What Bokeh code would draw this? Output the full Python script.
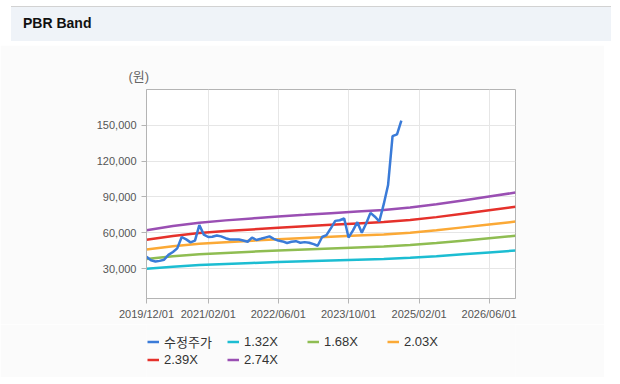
from datetime import datetime
from bokeh.plotting import figure
from bokeh.models import (Range1d, FixedTicker, DatetimeTickFormatter, NumeralTickFormatter,
                          Legend, LegendItem, Div)
from bokeh.layouts import column
from bokeh.embed import file_html
from bokeh.resources import INLINE

# ---------------- data ----------------
price_months = [
    "2019-12", "2020-01", "2020-02", "2020-03", "2020-04", "2020-05", "2020-06", "2020-07",
    "2020-08", "2020-09", "2020-10", "2020-11", "2020-12", "2021-01", "2021-02", "2021-03",
    "2021-04", "2021-05", "2021-06", "2021-07", "2021-08", "2021-09", "2021-10", "2021-11",
    "2021-12", "2022-01", "2022-02", "2022-03", "2022-04", "2022-05", "2022-06", "2022-07",
    "2022-08", "2022-09", "2022-10", "2022-11", "2022-12", "2023-01", "2023-02", "2023-03",
    "2023-04", "2023-05", "2023-06", "2023-07", "2023-08", "2023-09", "2023-10", "2023-11",
    "2023-12", "2024-01", "2024-02", "2024-03", "2024-04", "2024-05", "2024-06", "2024-07",
    "2024-08", "2024-09", "2024-10",
]
adj_price = [
    40000, 37000, 36000, 36500, 37500, 41500, 44000, 47000,
    56500, 54500, 52000, 53500, 66500, 58500, 56500, 56700,
    57800, 57000, 55500, 54400, 54400, 54400, 53500, 52500,
    56000, 54000, 55000, 56000, 57000, 55000, 53500, 52800,
    51500, 52500, 53000, 51700, 52200, 51700, 50500, 49200,
    56500, 58000, 64000, 70000, 70500, 72000, 56000, 62000,
    68900, 60000, 68000, 76700, 73500, 69500, 84000, 100000,
    141000, 142500, 154000,
]

bps_dates = ["2019-12", "2020-06", "2020-12", "2021-06", "2021-12", "2022-06", "2022-12",
             "2023-06", "2023-12", "2024-06", "2024-12", "2025-06", "2025-12", "2026-06", "2026-12"]
bps_values = [22700, 24000, 25000, 25700, 26300, 26900, 27400,
              27900, 28400, 28900, 29600, 30600, 31800, 33000, 34200]

band_multiples = [1.32, 1.68, 2.03, 2.39, 2.74]
band_labels = ["1.32X", "1.68X", "2.03X", "2.39X", "2.74X"]
band_colors = ["#1cbdd2", "#8fbd52", "#fba936", "#e5312b", "#9a4fb3"]
price_label = "수정주가"
price_color = "#3a7bd8"

x_tick_dates = ["2019-12-01", "2021-02-01", "2022-06-01", "2023-10-01", "2025-02-01", "2026-06-01"]
y_ticks = [30000, 60000, 90000, 120000, 150000]

# ---------------- helpers ----------------
def month_dt(s):
    y, m = s.split("-")[:2]
    return datetime(int(y), int(m), 1)

def ms(dt):
    return (dt - datetime(1970, 1, 1)).total_seconds() * 1000.0

price_x = [month_dt(s) for s in price_months]
bps_x = [month_dt(s) for s in bps_dates]

FONT = "Liberation Sans, Noto Sans CJK KR"
BG = "#fbfbfb"

p = figure(width=604, height=279, x_axis_type="datetime",
           x_range=Range1d(datetime(2019, 12, 1), datetime(2026, 12, 1)),
           y_range=Range1d(5000, 180000),
           output_backend="svg", toolbar_location=None,
           min_border_left=146, min_border_right=89, min_border_top=44, min_border_bottom=26)
p.border_fill_color = BG
p.background_fill_color = "#ffffff"
p.outline_line_color = "#b4b4b4"

p.title.text = "(원)"
p.title.align = "left"
p.title.offset = -18
p.title.standoff = 12
p.title.text_font = FONT
p.title.text_font_style = "normal"
p.title.text_font_size = "13px"
p.title.text_color = "#666666"

# axes
p.xaxis.ticker = FixedTicker(ticks=[ms(datetime.strptime(d, "%Y-%m-%d")) for d in x_tick_dates])
fmt = "%Y/%m/%d"
p.xaxis.formatter = DatetimeTickFormatter(milliseconds=fmt, seconds=fmt, minsec=fmt, minutes=fmt,
                                          hourmin=fmt, hours=fmt, days=fmt, months=fmt, years=fmt)
p.yaxis.ticker = FixedTicker(ticks=y_ticks)
p.yaxis.formatter = NumeralTickFormatter(format="0,0")
for ax in (p.xaxis, p.yaxis):
    ax.axis_line_color = "#b4b4b4"
    ax.major_tick_line_color = "#b4b4b4"
    ax.major_tick_out = 5
    ax.major_tick_in = 0
    ax.minor_tick_line_color = None
    ax.major_label_text_font = FONT
    ax.major_label_text_font_size = "11px"
    ax.major_label_text_color = "#555555"
p.xaxis.major_label_standoff = 4
p.yaxis.major_label_standoff = 5
p.grid.grid_line_color = "#e6e6e6"

# band lines, then price on top
for mult, col in zip(band_multiples, band_colors):
    vals = [mult * b for b in bps_values]
    p.line(bps_x, vals, line_color=col, line_width=2.5)
p.line(price_x, adj_price, line_color=price_color, line_width=2.5)

# ---------------- legend strip ----------------
lg = figure(width=604, height=53, x_range=Range1d(0, 1), y_range=Range1d(0, 1),
            output_backend="svg", toolbar_location=None,
            x_axis_location=None, y_axis_location=None,
            min_border_left=0, min_border_right=0, min_border_top=0, min_border_bottom=0)
lg.grid.visible = False
lg.outline_line_color = None
lg.border_fill_color = BG
lg.background_fill_color = BG

items = []
for lab, col in zip([price_label] + band_labels, [price_color] + band_colors):
    # out-of-range stand-in renderers: only their legend swatches are visible
    r = lg.line([5, 6], [5, 6], line_color=col, line_width=2.5)
    items.append(LegendItem(label=lab, renderers=[r]))

legend = Legend(items=items, location=(1, 10), orientation="horizontal", ncols=4,
                padding=0, margin=0, spacing=1, border_line_color=None,
                background_fill_alpha=0, glyph_width=12, glyph_height=13,
                label_height=13, label_width=62, label_standoff=5,
                label_text_font=FONT, label_text_font_size="13px",
                label_text_color="#333333")
lg.add_layout(legend, "center")

header = Div(text='<div style="width:600px;height:35px;margin-left:6px;margin-top:1px;background:#eff3f8;'
                  'border-top:1px solid #d2d2d2;box-sizing:border-box;'
                  'font:bold 14px Liberation Sans, Noto Sans CJK KR;color:#111;'
                  'line-height:33px;padding-left:12px;">PBR Band</div>',
             width=604, height=35)

bottom_line = Div(text='<div style="width:600px;height:1px;margin-left:6px;background:#d2d2d2;"></div>',
                  width=604, height=1)

layout = column(header, p, lg, bottom_line, spacing=0)
open("out.html", "w").write(file_html(layout, INLINE))
